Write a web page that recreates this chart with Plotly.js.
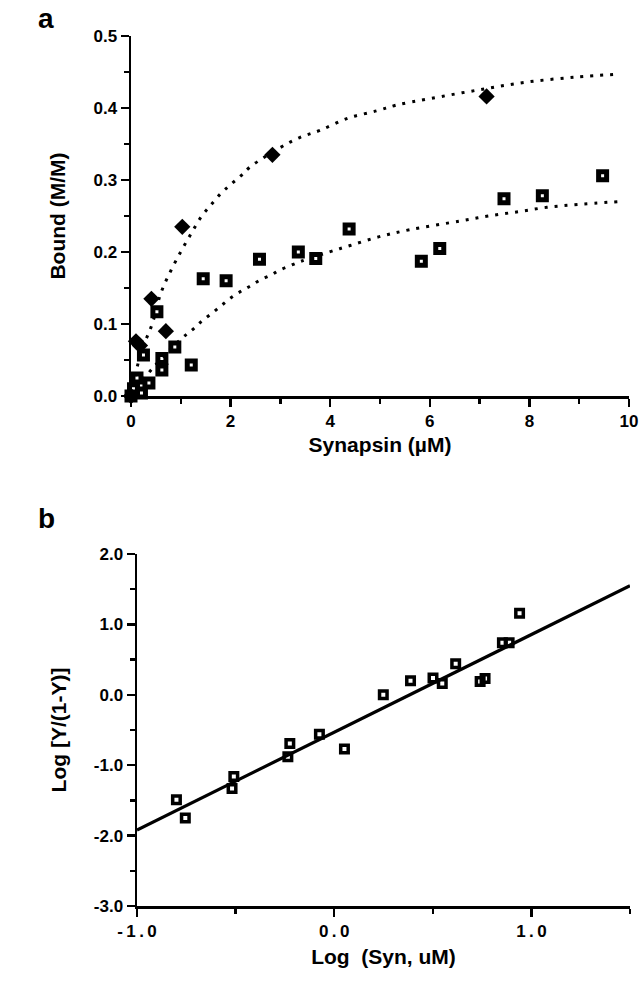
<!DOCTYPE html>
<html>
<head>
<meta charset="utf-8">
<script src="https://cdn.plot.ly/plotly-3.0.1.min.js"></script>
<style>html,body{margin:0;padding:0;background:#fff;}#chart{width:642px;height:985px;}</style>
</head>
<body>
<div id="chart"></div>
<script>
// ---- Panel a data ----
var diamondX = [0, 0.10, 0.18, 0.41, 0.70, 1.03, 2.84, 7.14];
var diamondY = [0, 0.076, 0.070, 0.135, 0.090, 0.235, 0.335, 0.416];

var squareAX = [0, 0.05, 0.12, 0.21, 0.36, 0.25, 0.52, 0.62, 0.62, 0.88, 1.21, 1.45, 1.91, 2.58, 3.36, 3.71, 4.38, 5.83, 6.20, 7.49, 8.26, 9.47];
var squareAY = [0, 0.010, 0.025, 0.004, 0.018, 0.057, 0.117, 0.052, 0.036, 0.068, 0.043, 0.163, 0.160, 0.190, 0.200, 0.191, 0.232, 0.187, 0.205, 0.274, 0.278, 0.306];

var fitUpperX = [0, 0.2, 0.43, 0.6, 0.8, 1.02, 1.22, 1.41, 1.59, 1.80, 1.99, 2.21, 2.39, 2.97, 3.39, 3.80, 4.36, 4.93, 5.33, 6.00, 6.97, 7.95, 8.95, 9.79];
var fitUpperY = [0, 0.060, 0.101, 0.143, 0.174, 0.203, 0.227, 0.249, 0.264, 0.281, 0.293, 0.306, 0.318, 0.344, 0.359, 0.369, 0.386, 0.396, 0.404, 0.413, 0.425, 0.436, 0.443, 0.447];

var fitLowerX = [0, 0.45, 1.02, 1.25, 1.42, 1.61, 1.82, 2.00, 2.22, 2.40, 2.59, 2.81, 2.99, 3.23, 3.41, 3.98, 4.40, 4.97, 5.60, 6.60, 7.17, 7.78, 8.35, 8.98, 9.79];
var fitLowerY = [0, 0.040, 0.080, 0.093, 0.104, 0.114, 0.126, 0.136, 0.146, 0.153, 0.161, 0.168, 0.175, 0.182, 0.187, 0.200, 0.209, 0.221, 0.231, 0.243, 0.250, 0.256, 0.262, 0.266, 0.270];

// ---- Panel b data ----
var logSynX = [-0.80, -0.755, -0.509, -0.518, -0.225, -0.235, -0.075, 0.052, 0.249, 0.387, 0.501, 0.548, 0.616, 0.740, 0.765, 0.853, 0.887, 0.94];
var logYY   = [-1.49, -1.75, -1.16, -1.33, -0.69, -0.88, -0.56, -0.77, 0.00, 0.20, 0.24, 0.16, 0.44, 0.19, 0.23, 0.74, 0.74, 1.16];
var fitLineX = [-1.0, 1.5];
var fitLineY = [-1.92, 1.55];

var xTicksA = [0, 2, 4, 6, 8, 10];
var yTicksA = [0.0, 0.1, 0.2, 0.3, 0.4, 0.5];
var xTicksB = [-1.0, 0.0, 1.0];
var yTicksB = [-3.0, -2.0, -1.0, 0.0, 1.0, 2.0];

var FONT = 'Liberation Sans, Arial, Helvetica, sans-serif';

function spaced(s) { return s.split('').join('\u2009'); }

var traces = [
  {x: fitUpperX, y: fitUpperY, xaxis:'x', yaxis:'y', mode:'lines', line:{color:'black', width:3, dash:'3px,7px', shape:'spline'}, hoverinfo:'skip'},
  {x: fitLowerX, y: fitLowerY, xaxis:'x', yaxis:'y', mode:'lines', line:{color:'black', width:3, dash:'3px,7px', shape:'spline'}, hoverinfo:'skip'},
  {x: squareAX, y: squareAY, xaxis:'x', yaxis:'y', mode:'markers', cliponaxis:false,
   marker:{symbol:'square-open', size:8, color:'black', line:{width:5, color:'black'}}},
  {x: diamondX, y: diamondY, xaxis:'x', yaxis:'y', mode:'markers', cliponaxis:false,
   marker:{symbol:'diamond', size:12.5, color:'black', line:{width:0}}},
  {x: fitLineX, y: fitLineY, xaxis:'x2', yaxis:'y2', mode:'lines', line:{color:'black', width:3.2}, hoverinfo:'skip'},
  {x: logSynX, y: logYY, xaxis:'x2', yaxis:'y2', mode:'markers', cliponaxis:false,
   marker:{symbol:'square-open', size:7.5, color:'black', line:{width:3.5, color:'black'}}}
];

var TICKFONT = {family:FONT, size:17, color:'black', weight:'bold'};
var TITLEFONT = {family:FONT, size:21, color:'black', weight:'bold'};

function axisBase() {
  return {
    showline:true, linecolor:'black', linewidth:2.5, mirror:false,
    showgrid:false, zeroline:false, ticks:'outside', ticklen:8, tickwidth:2.5, tickcolor:'black',
    tickfont:TICKFONT, fixedrange:true
  };
}

var xa = Object.assign(axisBase(), {
  domain:[131/642, 629/642], range:[0, 10], tickvals:xTicksA, ticktext:xTicksA.map(String), anchor:'y',
  minor:{dtick:1, tick0:0, ticks:'outside', ticklen:5, tickwidth:2.5, tickcolor:'black'},
  title:{text:'Synapsin (µM)', font:TITLEFONT, standoff:8}
});
var ya = Object.assign(axisBase(), {
  domain:[(985-396)/985, (985-36)/985], range:[0, 0.5], tickvals:yTicksA, ticktext:yTicksA.map(function(v){return v.toFixed(1);}), anchor:'x',
  minor:{dtick:0.05, tick0:0, ticks:'outside', ticklen:5, tickwidth:2.5, tickcolor:'black'},
  title:{text:'Bound (M/M)', font:TITLEFONT, standoff:22}
});
var xb = Object.assign(axisBase(), {
  domain:[137/642, 630/642], range:[-1, 1.5], tickvals:xTicksB, ticktext:xTicksB.map(function(v){return spaced(v.toFixed(1));}), anchor:'y2',
  minor:{dtick:0.5, tick0:-1, ticks:'outside', ticklen:5, tickwidth:2.5, tickcolor:'black'},
  title:{text:'Log  (Syn, uM)', font:TITLEFONT, standoff:10}
});
var yb = Object.assign(axisBase(), {
  domain:[(985-906)/985, (985-554)/985], range:[-3, 2], tickvals:yTicksB, ticktext:yTicksB.map(function(v){return v.toFixed(1);}), anchor:'x2',
  minor:{dtick:0.5, tick0:-3, ticks:'outside', ticklen:5, tickwidth:2.5, tickcolor:'black'},
  title:{text:'Log [Y/(1-Y)]', font:TITLEFONT, standoff:22}
});

var layout = {
  width:642, height:985, margin:{l:0, r:0, t:0, b:0}, showlegend:false,
  paper_bgcolor:'white', plot_bgcolor:'white',
  xaxis:xa, yaxis:ya, xaxis2:xb, yaxis2:yb,
  annotations:[
    {text:'a', x:36/642, y:1-18/985, xref:'paper', yref:'paper', xanchor:'left', yanchor:'middle', showarrow:false,
     font:{family:FONT, size:28, color:'black', weight:'bold'}},
    {text:'b', x:36/642, y:1-518/985, xref:'paper', yref:'paper', xanchor:'left', yanchor:'middle', showarrow:false,
     font:{family:FONT, size:28, color:'black', weight:'bold'}}
  ]
};

Plotly.newPlot('chart', traces, layout, {staticPlot:true, displayModeBar:false});
</script>
</body>
</html>
